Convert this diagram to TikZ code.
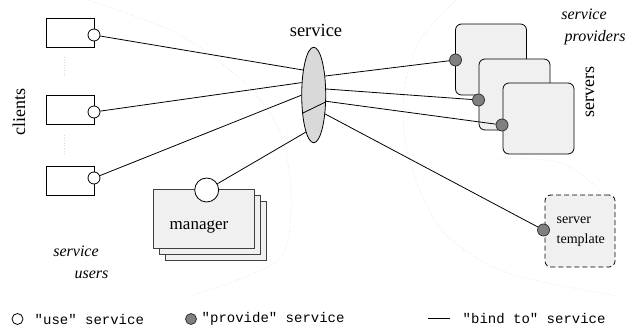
\documentclass[tikz,border=0pt]{standalone}
\usepackage{fontspec}
\setmainfont{Liberation Serif}
\setmonofont{Liberation Mono}
\usepackage{tikz}
\usetikzlibrary{shapes.geometric,positioning}

\tikzset{
  client/.style={rectangle,draw,minimum width=48pt,minimum height=29pt,inner sep=0pt},
  usept/.style={circle,draw,fill=white,minimum size=12pt,inner sep=0pt},
  providept/.style={circle,draw=black!80,fill=black!50,minimum size=12pt,inner sep=0pt},
  serverbox/.style={rectangle,draw,rounded corners=6pt,fill=black!6,minimum width=71pt,minimum height=71pt,inner sep=0pt},
  mgrbox/.style={rectangle,draw=black!75,line width=1pt,fill=black!6,minimum width=101pt,minimum height=59pt,inner sep=0pt},
  faint/.style={draw=black!15,dotted,line width=0.6pt},
  legendtext/.style={anchor=west,font=\ttfamily\fontsize{14}{16}\selectfont},
}

\begin{document}
\begin{tikzpicture}[x=1pt,y=-1pt,line width=0.8pt]
    \useasboundingbox (0,0) rectangle (628,328);

    % regions
    \draw[faint] plot[smooth] coordinates {(88,0) (180,35) (250,88) (283,140) (291,210) (276,262) (190,296)};
    \draw[faint] plot[smooth] coordinates {(456,0) (420,40) (404,92) (408,155) (440,228) (505,272) (618,296)};
    \draw[faint] plot[smooth] coordinates {(500,158) (565,164) (615,205)};

    % clients
    \node[client] (client1) at (70,32.5) {};
    \node[client] (client2) at (70,109.5) {};
    \node[client] (client3) at (70,181) {};
    \node[usept] (use1) at (94,35) {};
    \node[usept] (use2) at (94,112) {};
    \node[usept] (use3) at (94,178) {};
    \draw[faint] (64,57) -- (64,77);
    \draw[faint] (64,135) -- (64,155);
    \node[rotate=90,font=\fontsize{18}{20}\selectfont] (clients) at (19,112) {clients};
    \node[font=\itshape\fontsize{16}{18}\selectfont] (users1) at (76,251) {service};
    \node[font=\itshape\fontsize{16}{18}\selectfont] (users2) at (91.5,275) {users};

    % service
    \node[ellipse,draw,fill=black!15,minimum width=24pt,minimum height=95.5pt,inner sep=0pt] (svc) at (313.7,95) {};
    \node[font=\fontsize{18.5}{20}\selectfont] (svclabel) at (316,30) {service};
    \draw (svc.238) -- (svc.331);

    % servers
    \node[serverbox] (server1) at (491,59.5) {};
    \node[serverbox] (server2) at (514.5,94.5) {};
    \node[serverbox] (server3) at (538.5,118.5) {};
    \node[providept] (prov1) at (455.5,60) {};
    \node[providept] (prov2) at (478.5,100) {};
    \node[providept] (prov3) at (502,125) {};
    \node[rotate=90,font=\fontsize{18}{20}\selectfont] (servers) at (590,92) {servers};
    \node[font=\itshape\fontsize{16}{18}\selectfont] (prov1label) at (584,14) {service};
    \node[anchor=west,font=\itshape\fontsize{16}{18}\selectfont] (prov2label) at (561,38) {providers};

    % template
    \node[serverbox,dash pattern=on 5pt off 3pt,minimum width=70pt,minimum height=72pt] (tmpl) at (580,231) {};
    \node[providept] (provt) at (543.5,230) {};
    \node[align=left,anchor=west,font=\fontsize{14}{20}\selectfont] (tmpltext) at (553,232) {server\\template};

    % manager
    \node[mgrbox] (mgr3) at (215.5,231.5) {};
    \node[mgrbox] (mgr2) at (209.5,225.5) {};
    \node[mgrbox] (mgr1) at (203.5,219.5) {};
    \node[font=\fontsize{17}{20}\selectfont] (mgrlabel) at (199,227) {manager};
    \node[usept,minimum size=24pt] (usem) at (206.7,190) {};

    % bindings
    \draw (use1) -- (svc.113);
    \draw (use2) -- (svc.134);
    \draw (use3) -- (svc.181);
    \draw (usem) -- (svc.258);
    \draw (svc.59) -- (prov1);
    \draw (svc.26) -- (prov2);
    \draw (svc.333) -- (prov3);
    \draw (svc.301) -- (provt);

    % legend
    \node[usept,minimum size=11pt] (leguse) at (17.5,319) {};
    \node[legendtext] (legusetext) at (31,319) {"use" service};
    \node[providept,minimum size=11pt] (legprov) at (191,319) {};
    \node[legendtext] (legprovtext) at (198,319) {"provide" service};
    \coordinate (legbindA) at (428,318);
    \coordinate (legbindB) at (450,318);
    \draw (legbindA) -- (legbindB);
    \node[legendtext] (legbindtext) at (459,319) {"bind to" service};
\end{tikzpicture}
\end{document}
